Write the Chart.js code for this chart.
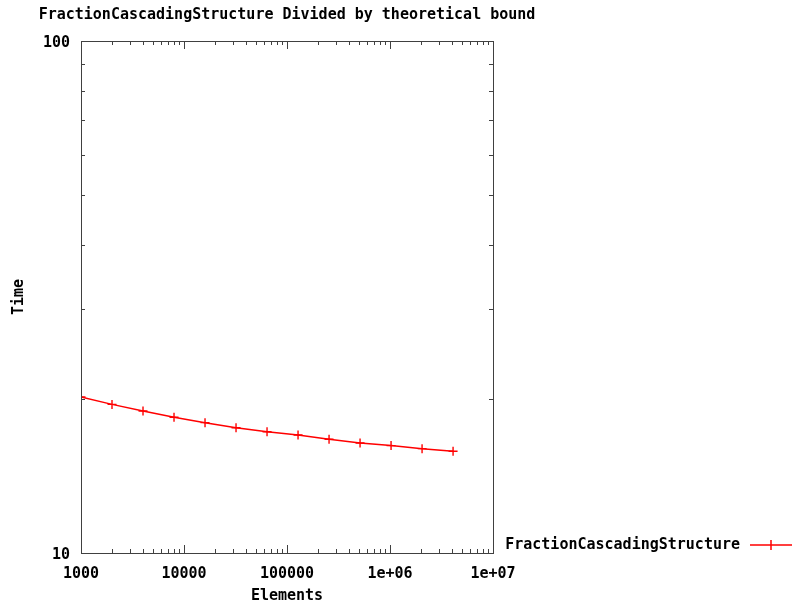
<!DOCTYPE html>
<html>
<head>
<meta charset="utf-8">
<script src="https://cdn.jsdelivr.net/npm/chart.js@4.4.1/dist/chart.umd.min.js"></script>
<style>
html,body{margin:0;padding:0;background:#fff;}
#wrap{width:792px;height:605px;position:relative;}
</style>
</head>
<body>
<div id="wrap"><canvas id="c" width="792" height="605"></canvas></div>
<script>
// Data
const elements = [1000, 2000, 4000, 8000, 16000, 32000, 64000, 128000, 256000, 512000, 1024000, 2048000, 4096000];
const timeRatio = [20.17, 19.51, 18.94, 18.41, 17.97, 17.57, 17.25, 17.00, 16.68, 16.40, 16.21, 15.99, 15.80];
const xTickValues = [1000, 10000, 100000, 1000000, 10000000];
const xTickLabels = ["1000", "10000", "100000", "1e+06", "1e+07"];
const yTickValues = [10, 100];
const yTickLabels = ["10", "100"];
const seriesName = "FractionCascadingStructure";
const chartTitle = "FractionCascadingStructure Divided by theoretical bound";

const FONT = "'DejaVu Sans Mono', 'Liberation Mono', monospace";
const RED = "#ff0000";
const AXIS = "#404040";

const points = elements.map((e, i) => ({x: e, y: timeRatio[i]}));

function logTicks(min, max) {
  const majors = [], minors = [];
  for (let d = min; d <= max; d *= 10) {
    majors.push(d);
    if (d < max) for (let k = 2; k <= 9; k++) minors.push(d * k);
  }
  return {majors, minors};
}

const inwardTicks = {
  id: 'inwardTicks',
  afterDatasetsDraw(chart) {
    const ctx = chart.ctx, a = chart.chartArea;
    const xs = chart.scales.x, ys = chart.scales.y;
    ctx.save();
    ctx.strokeStyle = AXIS;
    ctx.lineWidth = 1;
    ctx.beginPath();
    const xt = logTicks(xs.min, xs.max);
    const yt = logTicks(ys.min, ys.max);
    const drawX = (v, len) => {
      const p = Math.round(xs.getPixelForValue(v)) + 0.5;
      ctx.moveTo(p, a.bottom); ctx.lineTo(p, a.bottom - len);
      ctx.moveTo(p, a.top); ctx.lineTo(p, a.top + len);
    };
    const drawY = (v, len) => {
      const p = Math.round(ys.getPixelForValue(v)) + 0.5;
      ctx.moveTo(a.left, p); ctx.lineTo(a.left + len, p);
      ctx.moveTo(a.right, p); ctx.lineTo(a.right - len, p);
    };
    xt.majors.forEach(v => drawX(v, 8));
    xt.minors.forEach(v => drawX(v, 4));
    yt.majors.forEach(v => drawY(v, 8));
    yt.minors.forEach(v => drawY(v, 4));
    ctx.stroke();
    ctx.strokeRect(Math.round(a.left) + 0.5, Math.round(a.top) + 0.5,
                   Math.round(a.right - a.left), Math.round(a.bottom - a.top));
    ctx.restore();
  }
};

const titleLegend = {
  id: 'titleLegend',
  afterDraw(chart) {
    const ctx = chart.ctx, a = chart.chartArea;
    ctx.save();
    ctx.fillStyle = '#000';
    ctx.font = "bold 15px " + FONT;
    ctx.textBaseline = 'middle';
    ctx.textAlign = 'center';
    ctx.fillText(chartTitle, (a.left + a.right) / 2, 15);
    const ly = 545;
    ctx.textAlign = 'right';
    ctx.fillText(seriesName, 740, ly);
    ctx.restore();
    ctx.save();
    ctx.strokeStyle = RED;
    ctx.lineWidth = 1.5;
    ctx.beginPath();
    ctx.moveTo(750, ly); ctx.lineTo(792, ly);
    ctx.moveTo(771, ly - 5); ctx.lineTo(771, ly + 5);
    ctx.stroke();
    ctx.restore();
  }
};

new Chart(document.getElementById('c'), {
  type: 'line',
  data: {
    datasets: [{
      label: seriesName,
      data: points,
      borderColor: RED,
      backgroundColor: RED,
      borderWidth: 1.5,
      pointStyle: 'cross',
      pointRadius: 4.5,
      pointBorderWidth: 1.4,
      pointHoverRadius: 4.5,
      tension: 0,
      fill: false
    }]
  },
  options: {
    responsive: false,
    animation: false,
    devicePixelRatio: 1,
    layout: {padding: {top: 41, right: 299, left: 0, bottom: 0}},
    plugins: {
      legend: {display: false},
      title: {display: false},
      tooltip: {enabled: false}
    },
    scales: {
      x: {
        type: 'logarithmic',
        min: 1000,
        max: 10000000,
        grid: {display: false, drawTicks: false},
        border: {display: false},
        afterFit(s) { s.height = 52; },
        afterBuildTicks(s) { s.ticks = xTickValues.map(v => ({value: v})); },
        ticks: {
          autoSkip: false,
          maxRotation: 0,
          padding: 12,
          color: '#000',
          font: {family: FONT, size: 15, weight: 'bold'},
          callback(v) { const i = xTickValues.indexOf(v); return i >= 0 ? xTickLabels[i] : ''; }
        },
        title: {
          display: true,
          text: 'Elements',
          color: '#000',
          font: {family: FONT, size: 15, weight: 'bold'},
          padding: {top: 0, bottom: 0}
        }
      },
      y: {
        type: 'logarithmic',
        min: 10,
        max: 100,
        grid: {display: false, drawTicks: false},
        border: {display: false},
        afterFit(s) { s.width = 81; },
        afterBuildTicks(s) { s.ticks = yTickValues.map(v => ({value: v})); },
        ticks: {
          autoSkip: false,
          padding: 11,
          labelOffset: 2,
          color: '#000',
          font: {family: FONT, size: 15, weight: 'bold'},
          callback(v) { const i = yTickValues.indexOf(v); return i >= 0 ? yTickLabels[i] : ''; }
        },
        title: {
          display: true,
          text: 'Time',
          color: '#000',
          font: {family: FONT, size: 15, weight: 'bold'},
          padding: {top: 10, bottom: 0}
        }
      }
    }
  },
  plugins: [inwardTicks, titleLegend]
});
</script>
</body>
</html>
